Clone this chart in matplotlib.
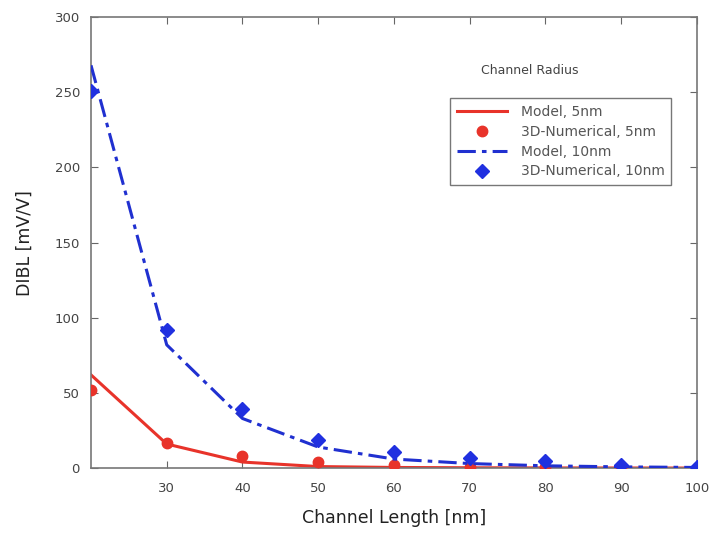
import matplotlib
matplotlib.use("Agg")
import matplotlib.pyplot as plt

length = [20, 30, 40, 50, 60, 70, 80, 90, 100]
model_5 = [62, 16, 4, 1, 0.4, 0.2, 0.1, 0.05, 0.02]
num_5_x = [20, 30, 40, 50, 60, 70, 80, 90, 100]
num_5 = [52, 17, 8, 4, 2, 1, 0.6, 0.3, 0.2]
model_10 = [268, 82, 33, 14, 6, 3, 1.5, 0.8, 0.4]
num_10 = [251, 92, 39, 19, 11, 7, 5, 2, 1]

xticks = [30, 40, 50, 60, 70, 80, 90, 100]
yticks = [0, 50, 100, 150, 200, 250, 300]

plt.rcParams['font.family'] = ['DejaVu Sans']
fig = plt.figure(figsize=(7.11, 5.38), dpi=100)
ax = fig.add_axes([0.128, 0.130, 0.852, 0.838])

ax.plot(length, model_5, color='#e8332a', lw=2.2, label='Model, 5nm', zorder=2)
ax.plot(num_5_x, num_5, 'o', color='#e8332a', ms=7.5, label='3D-Numerical, 5nm', zorder=3)
ax.plot(length, model_10, color='#2030d0', lw=2.2, ls=(0, (6, 2, 1.5, 2)), label='Model, 10nm', zorder=4)
ax.plot(length, num_10, 'D', color='#2030e0', ms=7.5, label='3D-Numerical, 10nm', zorder=5)

ax.set_xlim(20, 100)
ax.set_ylim(0, 300)
ax.set_xticks(xticks)
ax.set_yticks(yticks)
ax.tick_params(direction='in', top=True, right=True, length=5, labelsize=9.5,
               colors='#666666', labelcolor='#444444')
ax.tick_params(axis='x', pad=10)
ax.tick_params(axis='y', pad=8)
for s in ax.spines.values():
    s.set_color('#777777')
    s.set_linewidth(1.2)

ax.set_xlabel('Channel Length [nm]', fontsize=12.5, color='#222222', labelpad=10)
ax.set_ylabel('DIBL [mV/V]', fontsize=12.5, color='#222222', labelpad=15)

ax.text(0.725, 0.875, 'Channel Radius', transform=ax.transAxes, fontsize=9, color='#444444', ha='center')
leg = ax.legend(loc='upper right', bbox_to_anchor=(0.965, 0.83), fontsize=10, frameon=True, fancybox=False,
                edgecolor='#555555', borderpad=0.5, labelspacing=0.42, handlelength=3.6, handletextpad=1.0,
                borderaxespad=0.3)
leg.get_frame().set_linewidth(1.0)
for t in leg.get_texts():
    t.set_color('#555555')

fig.savefig('out.png', dpi=100)
